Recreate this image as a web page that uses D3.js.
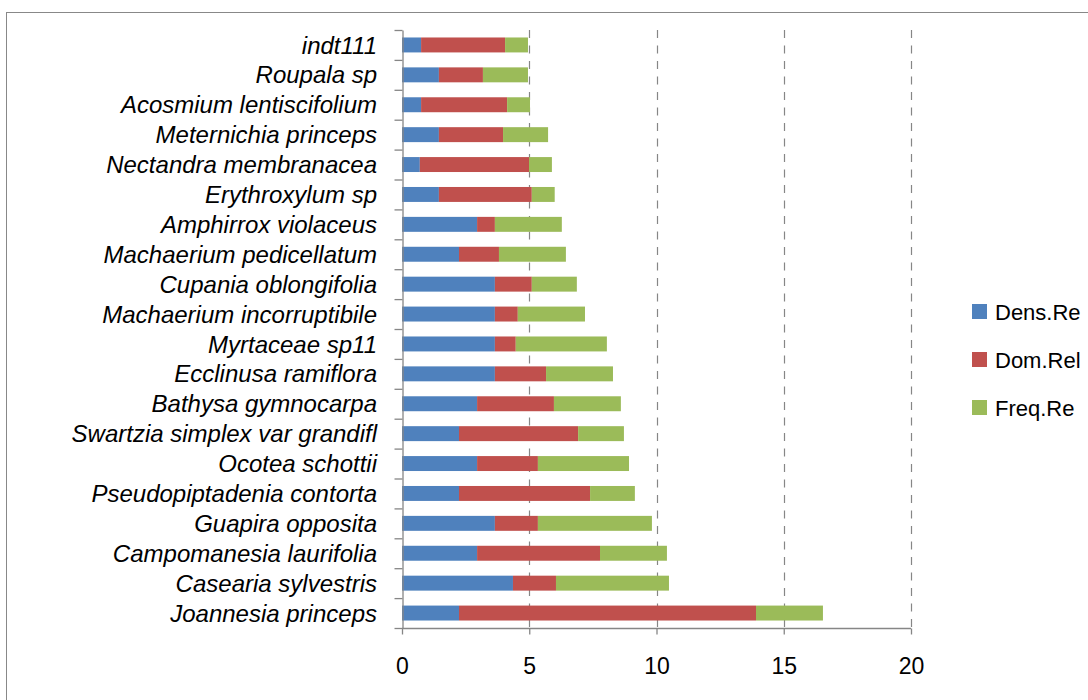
<!DOCTYPE html>
<html>
<head>
<meta charset="utf-8">
<script src="https://cdn.jsdelivr.net/npm/d3@7"></script>
<style>
  html, body { margin: 0; padding: 0; background: #fff; }
  svg { display: block; }
</style>
</head>
<body>
<svg id="chart" width="1088" height="700"></svg>
<script>
// Categories, top to bottom as shown
const categories = [
  "indt111", "Roupala sp", "Acosmium lentiscifolium", "Meternichia princeps",
  "Nectandra membranacea", "Erythroxylum sp", "Amphirrox violaceus",
  "Machaerium pedicellatum", "Cupania oblongifolia", "Machaerium incorruptibile",
  "Myrtaceae sp11", "Ecclinusa ramiflora", "Bathysa gymnocarpa",
  "Swartzia simplex var grandifl", "Ocotea schottii", "Pseudopiptadenia contorta",
  "Guapira opposita", "Campomanesia laurifolia", "Casearia sylvestris",
  "Joannesia princeps"
];
const densRe  = [0.75, 1.45, 0.75, 1.45, 0.70, 1.45, 2.95, 2.24, 3.65, 3.65,
                 3.65, 3.65, 2.95, 2.24, 2.95, 2.24, 3.65, 2.95, 4.36, 2.24];
const domRel  = [3.30, 1.73, 3.38, 2.52, 4.29, 3.65, 0.70, 1.57, 1.45, 0.90,
                 0.82, 2.01, 3.02, 4.68, 2.39, 5.15, 1.69, 4.83, 1.69, 11.67];
const freqRe  = [0.90, 1.77, 0.90, 1.77, 0.90, 0.90, 2.63, 2.63, 1.77, 2.64,
                 3.58, 2.63, 2.63, 1.80, 3.58, 1.76, 4.48, 2.63, 4.44, 2.63];
const seriesNames = ["Dens.Re", "Dom.Rel", "Freq.Re"];
const colors = ["#4F81BD", "#C0504D", "#9BBB59"];
const xTicks = [0, 5, 10, 15, 20];

const rows = categories.map((c, i) => ({
  cat: c, "Dens.Re": densRe[i], "Dom.Rel": domRel[i], "Freq.Re": freqRe[i]
}));

const svg = d3.select("#chart");
const pLeft = 402, pRight = 911, pTop = 30, pBottom = 628;
const axisColor = "#868686";
const font = "'Liberation Sans', Arial, sans-serif";

// outer chart border
svg.append("rect")
  .attr("x", 6.5).attr("y", 12.5).attr("width", 1200).attr("height", 800)
  .attr("fill", "none").attr("stroke", "#888").attr("stroke-width", 1);

const x = d3.scaleLinear().domain([0, 20]).range([pLeft, pRight]);
const y = d3.scaleBand().domain(categories).range([pTop, pBottom])
  .paddingInner(0.5).paddingOuter(0.25);
const yLin = d3.scaleLinear().domain([0, categories.length]).range([pTop, pBottom]);

// gridlines
svg.append("g").selectAll("line")
  .data(xTicks.filter(t => t > 0))
  .join("line")
  .attr("x1", d => Math.round(x(d)) + 0.5).attr("x2", d => Math.round(x(d)) + 0.5)
  .attr("y1", pTop).attr("y2", pBottom)
  .attr("stroke", axisColor).attr("stroke-width", 1.2)
  .attr("stroke-dasharray", "8,7.5");

// stacked bars
const stack = d3.stack().keys(seriesNames);
const stacked = stack(rows);
svg.append("g").selectAll("g")
  .data(stacked)
  .join("g")
  .attr("fill", (d, i) => colors[i])
  .selectAll("rect")
  .data(d => d)
  .join("rect")
  .attr("x", d => x(d[0]))
  .attr("width", d => x(d[1]) - x(d[0]))
  .attr("y", d => y(d.data.cat))
  .attr("height", y.bandwidth());

// y axis (ticks at category boundaries)
const yAxis = svg.append("g")
  .attr("transform", `translate(${pLeft + 0.5},0)`)
  .call(d3.axisLeft(yLin).tickValues(d3.range(categories.length + 1))
    .tickSize(8).tickSizeOuter(0).tickFormat(""));
yAxis.selectAll("path, line").attr("stroke", axisColor).attr("stroke-width", 1.3);

// category labels
svg.append("g").selectAll("text")
  .data(categories)
  .join("text")
  .attr("x", 377)
  .attr("y", d => y(d) + y.bandwidth() / 2)
  .attr("dy", "0.36em")
  .attr("text-anchor", "end")
  .attr("font-family", font)
  .attr("font-style", "italic")
  .attr("font-size", "24px")
  .attr("fill", "#000")
  .text(d => d);

// x axis
const xAxis = svg.append("g")
  .attr("transform", `translate(0,${pBottom + 0.5})`)
  .call(d3.axisBottom(x).tickValues(xTicks).tickSize(6).tickSizeOuter(0));
xAxis.selectAll("path, line").attr("stroke", axisColor).attr("stroke-width", 1.3);
xAxis.selectAll("text")
  .attr("y", 45).attr("dy", null)
  .attr("font-family", font).attr("font-size", "23px").attr("fill", "#000");
xAxis.select(".domain").attr("d", `M${pLeft},0H${pRight}`);

// legend
const legend = svg.append("g").selectAll("g")
  .data(seriesNames)
  .join("g")
  .attr("transform", (d, i) => `translate(972,${304 + i * 48})`);
legend.append("rect")
  .attr("width", 15).attr("height", 15)
  .attr("fill", (d, i) => colors[i]);
legend.append("text")
  .attr("x", 23).attr("y", 15.5)
  .attr("font-family", font).attr("font-size", "22px").attr("fill", "#000")
  .text(d => d);
</script>
</body>
</html>
